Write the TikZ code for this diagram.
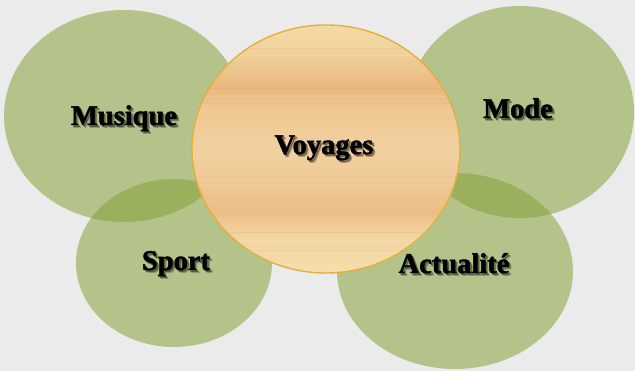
\documentclass[tikz,border=0pt]{standalone}
\usepackage{fontspec}
\setmainfont{Liberation Serif}[BoldFeatures={FakeBold=1.6}]
\usetikzlibrary{shapes.geometric}
\definecolor{bgc}{RGB}{235,235,235}
\definecolor{leaf}{RGB}{131,160,50}
\definecolor{woodedge}{RGB}{226,176,60}
\definecolor{wa}{RGB}{246,222,172}
\definecolor{wb}{RGB}{242,212,160}
\definecolor{wc}{RGB}{236,190,134}
\definecolor{wd}{RGB}{239,202,152}
\definecolor{we}{RGB}{241,208,160}
\definecolor{wf}{RGB}{239,200,146}
\definecolor{wg}{RGB}{233,184,124}
\definecolor{wh}{RGB}{237,196,140}
\definecolor{wi}{RGB}{241,211,158}
\definecolor{wj}{RGB}{244,218,166}
\pgfdeclareverticalshading{wood}{100bp}{color(0bp)=(wa); color(25bp)=(wa); color(32.5bp)=(wb); color(37.5bp)=(wc); color(44bp)=(wd); color(50bp)=(we); color(58bp)=(wf); color(62.5bp)=(wg); color(65.5bp)=(wh); color(70bp)=(wi); color(75bp)=(wj); color(100bp)=(wj)}
\newcommand\shadowlabel[3]{%
  \node[lbl, text opacity=0.18] (#1t) at ([shift={(2.6,2.6)}]#2) {#3};
  \node[lbl, text opacity=0.35] (#1s) at ([shift={(1.6,1.6)}]#2) {#3};
  \node[lbl] (#1) at (#2) {#3};
}
\begin{document}
\begin{tikzpicture}[x=1pt,y=-1pt,
  blob/.style={ellipse, draw=none, fill=leaf, fill opacity=0.52, inner sep=0pt},
  lbl/.style={font=\fontsize{28.5}{32}\selectfont\bfseries, anchor=base, inner sep=0pt, text=black}]
\useasboundingbox[fill=bgc] (0,0) rectangle (635,371);
% green circles
\node[blob, minimum width=240pt, minimum height=212pt] (musiqueE) at (124,116) {};
\node[blob, minimum width=228pt, minimum height=212pt] (modeE) at (520,112) {};
\node[blob, minimum width=196pt, minimum height=168pt] (sportE) at (174,263) {};
\node[blob, minimum width=236pt, minimum height=196pt] (actuE) at (455,271) {};
% central wooden circle
\node[ellipse, inner sep=0pt, minimum width=268pt, minimum height=248pt,
      shade, shading=wood, draw=woodedge, line width=1.4pt] (voyagesE) at (326,149) {};
\begin{scope}
  \clip (326,149) ellipse [x radius=133, y radius=123];
  \foreach \yy/\oo in {48/0.06,62/0.05,88/0.06,103/0.05,118/0.04,176/0.05,196/0.05,214/0.06,232/0.05,250/0.05}
    \draw[brown!70!black, opacity=\oo, line width=0.5pt] (190,\yy) -- (462,\yy);
  \foreach \yy/\oo in {55/0.15,96/0.12,140/0.12,185/0.12,240/0.15}
    \draw[white, opacity=\oo, line width=0.8pt] (190,\yy) -- (462,\yy);
\end{scope}
% labels
\shadowlabel{musique}{124,125}{Musique}
\shadowlabel{mode}{518,118}{Mode}
\shadowlabel{voyages}{324,154}{Voyages}
\shadowlabel{sport}{176,270}{Sport}
\shadowlabel{actualite}{454,273}{Actualité}
\end{tikzpicture}
\end{document}
